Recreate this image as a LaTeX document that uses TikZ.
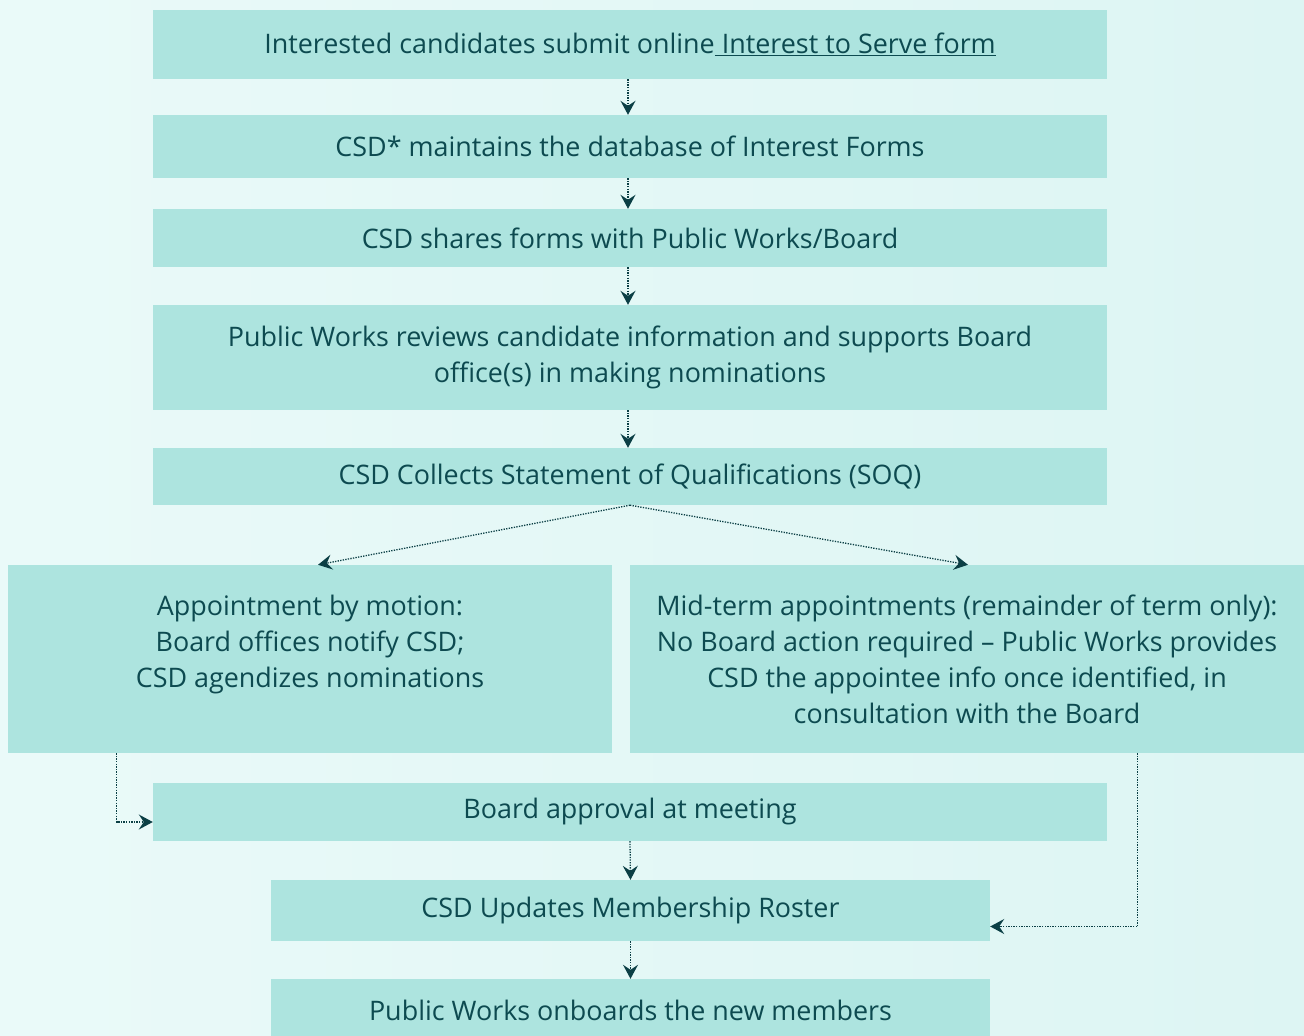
\documentclass[tikz,border=0pt]{standalone}
\usepackage{fontspec}
\setmainfont{Open Sans}
\usetikzlibrary{arrows.meta,calc}
\definecolor{boxfill}{HTML}{ADE4DF}
\definecolor{bgA}{HTML}{EAFAF9}
\definecolor{bgB}{HTML}{DDF5F3}
\definecolor{txt}{HTML}{0D4A50}
\definecolor{arrc}{HTML}{0B3F45}
\tikzset{
  box/.style={rectangle, fill=boxfill, inner sep=0pt, text=txt, align=center,
    font=\fontsize{26.9}{36}\selectfont},
  arr/.style={draw=arrc, line width=1.3pt, dash pattern=on 1.3pt off 1.3pt,
    -{Stealth[length=14pt,width=15pt,inset=5pt]}},
}
\begin{document}
\begin{tikzpicture}[x=1pt,y=-1pt]
\useasboundingbox (0,0) rectangle (1304,1036);
\shade[left color=bgA, right color=bgB] (0,0) rectangle (1304,1036);
\node[box, minimum width=954, minimum height=69] (b1) at (630,44.5) {Interested candidates submit online\underline{\ Interest to Serve form}};
\node[box, minimum width=954, minimum height=63] (b2) at (630,146.5) {CSD* maintains the database of Interest Forms};
\node[box, minimum width=954, minimum height=58] (b3) at (630,238) {CSD shares forms with Public Works/Board};
\node[box, minimum width=954, minimum height=105] (b4) at (630,357.5) {Public Works reviews candidate information and supports Board\\office(s) in making nominations};
\node[box, minimum width=954, minimum height=57] (b5) at (630,476.5) {CSD Collects Statement of Qualifications (SOQ)};
\node[box, minimum width=604, minimum height=188] (b6l) at (310,659) {Appointment by motion:\\Board offices notify CSD;\\CSD agendizes nominations\\\mbox{}};
\node[box, minimum width=674, minimum height=188] (b6r) at (967,659) {Mid-term appointments (remainder of term only):\\No Board action required -- Public Works provides\\CSD the appointee info once identified, in\\consultation with the Board};
\node[box, minimum width=954, minimum height=58] (b7) at (630,812) {Board approval at meeting};
\node[box, minimum width=719, minimum height=61] (b8) at (630.5,910.5) {CSD Updates Membership Roster};
\node[box, minimum width=719, minimum height=62] (b9) at (630.5,1010) {Public Works onboards the new members};
\draw[arr] ([xshift=-2pt]b1.south) -- ([xshift=-2pt]b2.north);
\draw[arr] ([xshift=-2pt]b2.south) -- ([xshift=-2pt]b3.north);
\draw[arr] ([xshift=-2pt]b3.south) -- ([xshift=-2pt]b4.north);
\draw[arr] ([xshift=-2pt]b4.south) -- ([xshift=-2pt]b5.north);
\draw[arr] (b5.south) -- ([xshift=8pt]b6l.north);
\draw[arr] (b5.south) -- ([xshift=1pt]b6r.north);
\draw[arr] ($(b6l.south west)+(109,0)$) |- ([yshift=-10pt]b7.west);
\draw[arr] (b7.south) -- (b8.north);
\draw[arr] ($(b6r.south west)+(508,0)$) |- ([yshift=-16pt]b8.east);
\draw[arr] (b8.south) -- (b9.north);
\end{tikzpicture}
\end{document}
